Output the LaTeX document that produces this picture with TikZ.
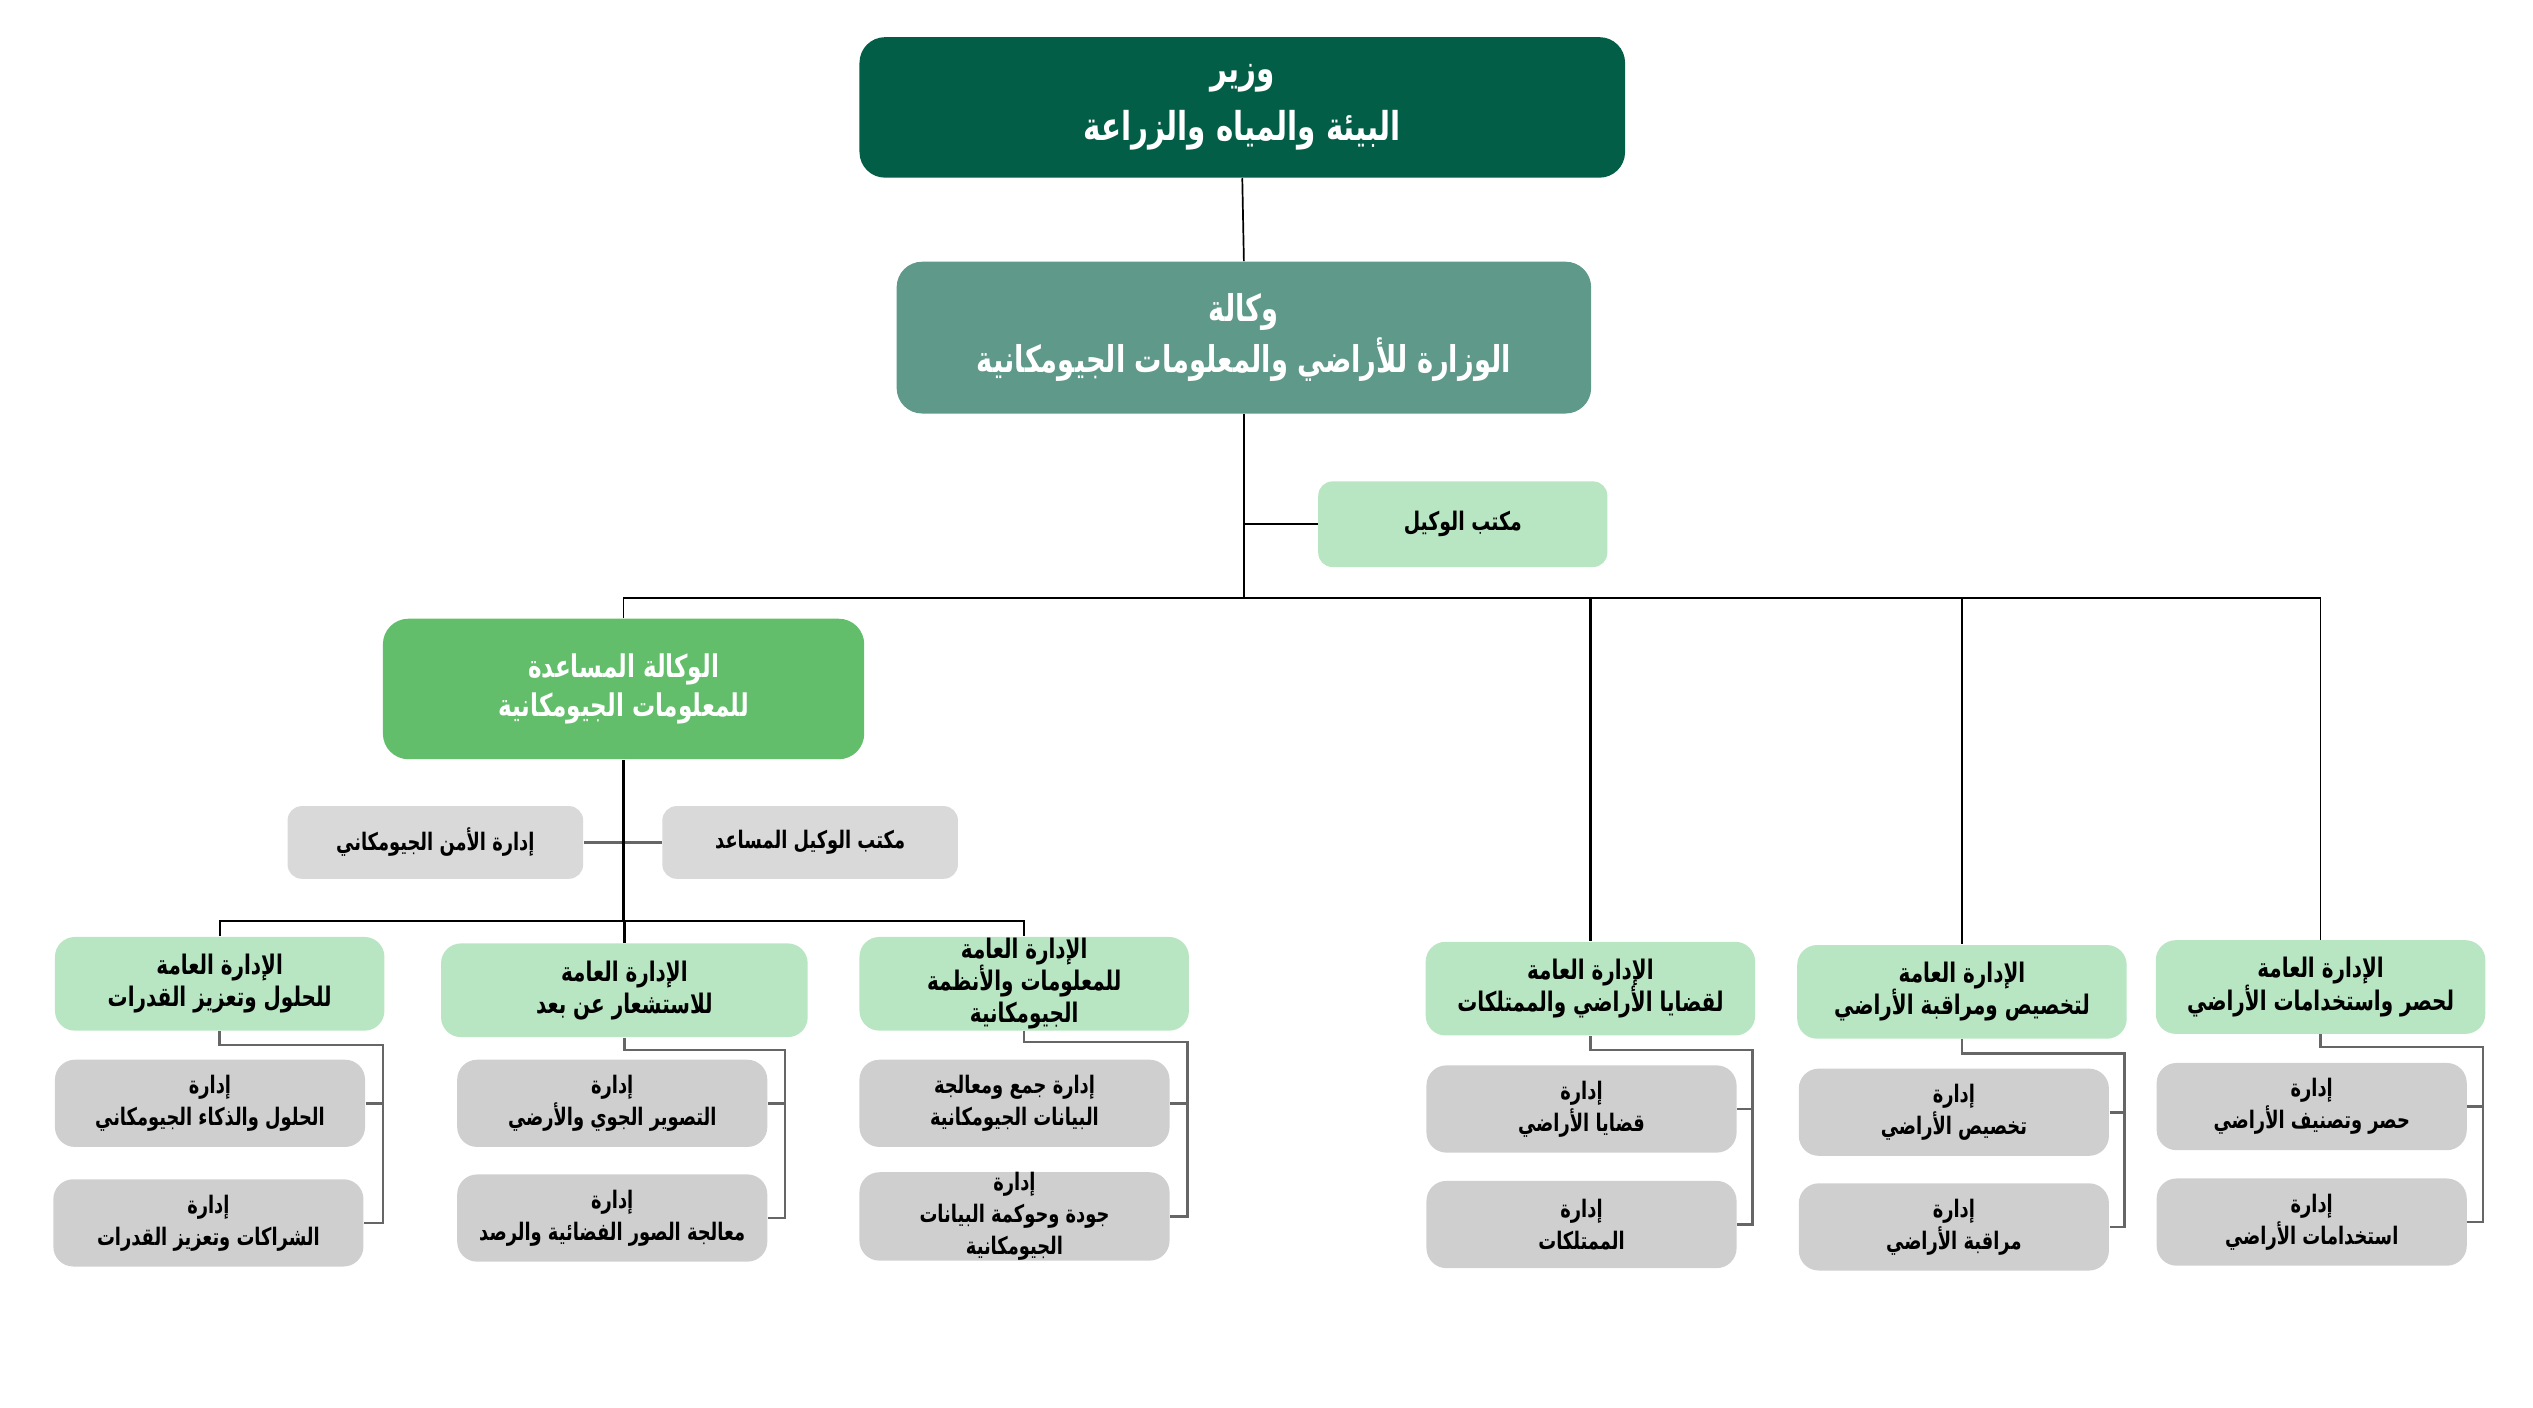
\documentclass[tikz,border=0pt]{standalone}
\usepackage{fontspec}
\usepackage{tikz}
\usepackage{xcolor}
\TeXXeTstate=1
\newfontfamily\arabicfont[Script=Arabic,FakeStretch=0.74]{DejaVu Sans}
\newcommand{\ar}[1]{\beginR #1\endR}

\definecolor{ministergreen}{RGB}{2,94,70}
\definecolor{agencygreen}{RGB}{95,153,137}
\definecolor{assistgreen}{RGB}{98,190,106}
\definecolor{palegreen}{RGB}{184,229,194}
\definecolor{lightgray}{RGB}{217,217,217}
\definecolor{subgray}{RGB}{208,207,208}

\tikzset{
  box/.style={rectangle, rounded corners=7pt, inner sep=0pt, align=center, font=\arabicfont\bfseries},
  ministerbox/.style={box, fill=ministergreen, text=white, rounded corners=9pt,
    minimum width=9.48cm, minimum height=1.74cm, font=\arabicfont\bfseries\fontsize{14}{20.5}\selectfont},
  agencybox/.style={box, fill=agencygreen, text=white, rounded corners=9pt,
    minimum width=8.6cm, minimum height=1.88cm, font=\arabicfont\bfseries\fontsize{13}{18}\selectfont},
  officebox/.style={box, fill=palegreen, rounded corners=5pt,
    minimum width=3.58cm, minimum height=1.06cm, font=\arabicfont\bfseries\fontsize{9}{11}\selectfont},
  assistbox/.style={box, fill=assistgreen, text=white, rounded corners=9pt,
    minimum width=5.96cm, minimum height=1.74cm, font=\arabicfont\bfseries\fontsize{11}{13.6}\selectfont},
  unitbox/.style={box, fill=lightgray, rounded corners=5pt,
    minimum width=3.66cm, minimum height=0.9cm, font=\arabicfont\bfseries\fontsize{8.5}{11}\selectfont},
  gdbox/.style={box, fill=palegreen,
    minimum width=4.08cm, minimum height=1.16cm, font=\arabicfont\bfseries\fontsize{9.5}{11.3}\selectfont},
  subbox/.style={box, fill=subgray,
    minimum width=3.84cm, minimum height=1.08cm, font=\arabicfont\bfseries\fontsize{8.5}{11.3}\selectfont},
  link/.style={draw=black, line width=0.6pt},
  heavylink/.style={draw=black, line width=1pt},
  sublink/.style={draw=black!60, line width=0.9pt}
}

\begin{document}
\begin{tikzpicture}[x=0.02cm, y=-0.02cm]
\useasboundingbox (0,0) rectangle (1568,871);

% top of the chart
\node[ministerbox] (minister) at (769,66.5) {\ar{وزير}\\\ar{البيئة والمياه والزراعة}};
\node[agencybox] (agency) at (770,209) {\ar{وكالة}\\\ar{الوزارة للأراضي والمعلومات الجيومكانية}};
\node[officebox] (office) at (905.5,324.5) {\ar{مكتب الوكيل}};

% assistant agency
\node[assistbox] (assist) at (386,426.5) {\ar{الوكالة المساعدة}\\\ar{للمعلومات الجيومكانية}};
\node[unitbox] (security) at (269.5,521.5) {\ar{إدارة الأمن الجيومكاني}};
\node[unitbox] (assistoffice) at (501.5,521.5) {\ar{مكتب الوكيل المساعد}};

% general directorates
\node[gdbox] (gdsolutions) at (136,609) {\ar{الإدارة العامة}\\\ar{للحلول وتعزيز القدرات}};
\node[gdbox, minimum width=4.54cm] (gdsensing) at (386.5,613) {\ar{الإدارة العامة}\\\ar{للاستشعار عن بعد}};
\node[gdbox] (gdsystems) at (634,609) {\ar{الإدارة العامة}\\\ar{للمعلومات والأنظمة}\\\ar{الجيومكانية}};
\node[gdbox] (gdcases) at (984.5,612) {\ar{الإدارة العامة}\\\ar{لقضايا الأراضي والممتلكات}};
\node[gdbox] (gdallot) at (1214.5,614) {\ar{الإدارة العامة}\\\ar{لتخصيص ومراقبة الأراضي}};
\node[gdbox] (gdsurvey) at (1436.5,611) {\ar{الإدارة العامة}\\\ar{لحصر واستخدامات الأراضي}};

% departments
\node[subbox] (solai) at (130,683) {\ar{إدارة}\\\ar{الحلول والذكاء الجيومكاني}};
\node[subbox] (partner) at (129,757) {\ar{إدارة}\\\ar{الشراكات وتعزيز القدرات}};
\node[subbox] (aerial) at (379,683) {\ar{إدارة}\\\ar{التصوير الجوي والأرضي}};
\node[subbox] (imagery) at (379,754) {\ar{إدارة}\\\ar{معالجة الصور الفضائية والرصد}};
\node[subbox] (collect) at (628,683) {\ar{إدارة جمع ومعالجة}\\\ar{البيانات الجيومكانية}};
\node[subbox] (quality) at (628,753) {\ar{إدارة}\\\ar{جودة وحوكمة البيانات}\\\ar{الجيومكانية}};
\node[subbox] (landcases) at (979,686.5) {\ar{إدارة}\\\ar{قضايا الأراضي}};
\node[subbox] (property) at (979,758) {\ar{إدارة}\\\ar{الممتلكات}};
\node[subbox] (allot) at (1209.5,688.5) {\ar{إدارة}\\\ar{تخصيص الأراضي}};
\node[subbox] (monitor) at (1209.5,759.5) {\ar{إدارة}\\\ar{مراقبة الأراضي}};
\node[subbox] (classify) at (1431,685) {\ar{إدارة}\\\ar{حصر وتصنيف الأراضي}};
\node[subbox] (landuse) at (1431,756.5) {\ar{إدارة}\\\ar{استخدامات الأراضي}};

% main lines
\coordinate (bus) at (0,370);
\coordinate (assistbus) at (0,570);
\draw[link] (minister.south) -- (agency.north);
\draw[link] (agency.south) -- (agency.south |- bus);
\draw[link] (agency.south |- office.west) -- (office.west);
\draw[link] (assist.north) -- (assist.north |- bus) -- (gdsurvey.north |- bus) -- (gdsurvey.north);
\draw[heavylink] (gdcases.north |- bus) -- (gdcases.north);
\draw[heavylink] (gdallot.north |- bus) -- (gdallot.north);
\draw[sublink] (security.east) -- (assistoffice.west);
\draw[heavylink] (assist.south) -- (assist.south |- assistbus);
\draw[link] (gdsolutions.north) -- (gdsolutions.north |- assistbus) -- (gdsystems.north |- assistbus) -- (gdsystems.north);
\draw[heavylink] (gdsensing.north |- assistbus) -- (gdsensing.north);

% department lines
\coordinate (e1) at (237,647);
\coordinate (e2) at (486,650);
\coordinate (e3) at (735,645);
\coordinate (e4) at (1085,650);
\coordinate (e5) at (1315,652);
\coordinate (e6) at (1537,648);
\draw[sublink] (gdsolutions.south) |- (e1) |- (partner.east);
\draw[sublink] (solai.east) -- (solai.east -| e1);
\draw[sublink] (gdsensing.south) |- (e2) |- (imagery.east);
\draw[sublink] (aerial.east) -- (aerial.east -| e2);
\draw[sublink] (gdsystems.south) |- (e3) |- (quality.east);
\draw[sublink] (collect.east) -- (collect.east -| e3);
\draw[sublink] (gdcases.south) |- (e4) |- (property.east);
\draw[sublink] (landcases.east) -- (landcases.east -| e4);
\draw[sublink] (gdallot.south) |- (e5) |- (monitor.east);
\draw[sublink] (allot.east) -- (allot.east -| e5);
\draw[sublink] (gdsurvey.south) |- (e6) |- (landuse.east);
\draw[sublink] (classify.east) -- (classify.east -| e6);
\end{tikzpicture}
\end{document}
